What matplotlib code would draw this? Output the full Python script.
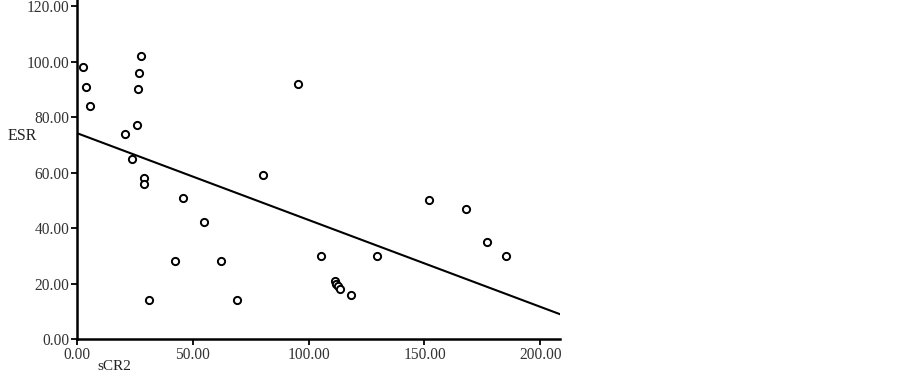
import matplotlib
matplotlib.use("Agg")
import matplotlib.pyplot as plt
import numpy as np

# sCR2 vs ESR
scr2 = [2.4, 3.7, 5.6, 27.5, 26.9, 26.3, 25.8, 20.7, 23.6, 29.1, 29.1, 80.4, 95.3,
        45.8, 54.7, 42.5, 62.0, 31.0, 69.0,
        105.2, 129.3, 152.1, 168.1, 177.0, 185.4,
        111.2, 112.0, 112.7, 113.6, 118.4]
esr = [98, 91, 84, 102, 96, 90, 77, 74, 65, 58, 56, 59, 92,
       51, 42, 28, 28, 14, 14,
       30, 30, 50, 47, 35, 30,
       21, 20, 19, 18, 16]

# fitted line (intercept, slope) as drawn in the reference
fit_intercept = 74.2
fit_slope = -0.313

xticks = [0, 50, 100, 150, 200]
yticks = [0, 20, 40, 60, 80, 100, 120]

plt.rcParams['font.family'] = ['Liberation Serif', 'DejaVu Serif']

fig = plt.figure(figsize=(9.03, 3.78), dpi=100)
ax = fig.add_axes([77 / 903, 1 - 339 / 378, (560 - 77) / 903, 339 / 378])

ax.set_xlim(0, 208.5)
ax.set_ylim(0, 122.2)

xx = np.array([0, 208.5])
ax.plot(xx, fit_intercept + fit_slope * xx, color='black', lw=1.5)
ax.plot(scr2, esr, 'o', mfc='white', mec='black', mew=1.4, ms=5.2, ls='none')

ax.set_xticks(xticks)
ax.set_yticks(yticks)
ax.set_xticklabels([f"{v:.2f}" for v in xticks])
ax.set_yticklabels([f"{v:.2f}" for v in yticks])
ax.tick_params(direction='out', length=4, width=1.3, labelsize=11.2, colors='black',
               pad=1.5)
for lab in ax.get_xticklabels() + ax.get_yticklabels():
    lab.set_color('#333333')

for s in ['top', 'right']:
    ax.spines[s].set_visible(False)
for s in ['left', 'bottom']:
    ax.spines[s].set_linewidth(1.8)

fig.text(8 / 903, 1 - 136 / 378, "ESR", fontsize=11.5, ha='left', va='center', color='#222222')
fig.text(97 / 903, 1 - 367 / 378, "sCR2", fontsize=11, ha='left', va='center', color='#222222')

fig.savefig("out.png", dpi=100)
